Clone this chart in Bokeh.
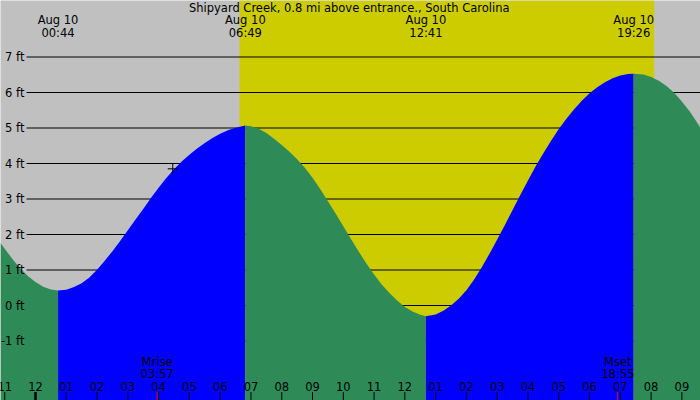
from bokeh.plotting import figure
from bokeh.models import Range1d
from bokeh.core.properties import value
from bokeh.embed import file_html
from bokeh.resources import INLINE

title = "Shipyard Creek, 0.8 mi above entrance., South Carolina"

# tide curve: hours after midnight Aug 10, height in ft
tide_t = [-1.137, -1.0, -0.75, -0.5, -0.25, 0.0, 0.25, 0.5, 0.733,
          1.0, 1.25, 1.5, 1.75, 2.0, 2.25, 2.5, 2.75, 3.0, 3.25, 3.5, 3.75,
          4.0, 4.25, 4.5, 4.75, 5.0, 5.25, 5.5, 5.75, 6.0, 6.25, 6.5, 6.817,
          7.0, 7.25, 7.5, 7.75, 8.0, 8.25, 8.5, 8.75, 9.0, 9.25, 9.5, 9.75,
          10.0, 10.25, 10.5, 10.75, 11.0, 11.25, 11.5, 11.75, 12.0, 12.25,
          12.5, 12.683,
          13.0, 13.25, 13.5, 13.75, 14.0, 14.25, 14.5, 14.75, 15.0, 15.25,
          15.5, 15.75, 16.0, 16.25, 16.5, 16.75, 17.0, 17.25, 17.5, 17.75,
          18.0, 18.25, 18.5, 18.75, 19.0, 19.25, 19.433,
          19.75, 20.0, 20.25, 20.5, 20.75, 21.0, 21.25, 21.5, 21.605]
tide_h = [1.76, 1.60, 1.31, 1.05, 0.83, 0.66, 0.53, 0.45, 0.42,
          0.445, 0.52, 0.63, 0.79, 1.01, 1.26, 1.53, 1.82, 2.12, 2.42, 2.72, 3.03,
          3.32, 3.59, 3.84, 4.06, 4.25, 4.42, 4.58, 4.72, 4.84, 4.94, 5.01, 5.07,
          5.05, 4.98, 4.86, 4.70, 4.52, 4.33, 4.12, 3.88, 3.60, 3.28, 2.94, 2.59,
          2.23, 1.87, 1.52, 1.18, 0.87, 0.59, 0.35, 0.14, -0.04, -0.17,
          -0.26, -0.30,
          -0.25, -0.15, 0.0, 0.19, 0.43, 0.73, 1.08, 1.46, 1.86, 2.27,
          2.69, 3.11, 3.52, 3.92, 4.29, 4.64, 4.97, 5.26, 5.53, 5.77,
          5.98, 6.15, 6.29, 6.40, 6.48, 6.52, 6.53,
          6.51, 6.44, 6.33, 6.18, 5.99, 5.75, 5.47, 5.15, 5.0]

# high / low tides
event_t = [0.733, 6.817, 12.683, 19.433]
event_date = ["Aug 10", "Aug 10", "Aug 10", "Aug 10"]
event_time = ["00:44", "06:49", "12:41", "19:26"]

sun_rise = 6.63
sun_set = 20.10

moon_t = [3.95, 18.917]
moon_name = ["Mrise", "Mset"]
moon_time = ["03:57", "18:55"]

now_t = [4.46]
now_h = [3.85]

ft_levels = [7, 6, 5, 4, 3, 2, 1, 0, -1]
ft_labels = ["7 ft", "6 ft", "5 ft", "4 ft", "3 ft", "2 ft", "1 ft", "0 ft", "-1 ft"]

hours = list(range(-1, 22))
hour_labels = ["11", "12", "01", "02", "03", "04", "05", "06", "07", "08", "09",
               "10", "11", "12", "01", "02", "03", "04", "05", "06", "07", "08", "09"]

X0, X1 = -1.137, 21.605
Y0, Y1 = -2.676, 8.592

FONT = value("DejaVu Sans")
FS = "11.5px"

p = figure(width=700, height=400, x_range=Range1d(X0, X1), y_range=Range1d(Y0, Y1),
           x_axis_type=None, y_axis_type=None, title=None,
           output_backend="svg", toolbar_location=None, min_border=0)
p.grid.visible = False
p.outline_line_color = None
p.background_fill_color = "#c0c0c0"
p.border_fill_color = "#c0c0c0"

# daylight
p.quad(left=[sun_rise], right=[sun_set], bottom=Y0, top=Y1,
       fill_color="#cccc00", line_color=None)

# level lines
p.segment(x0=-0.29, x1=X1, y0=ft_levels, y1=ft_levels, line_color="black", line_width=1)

# water, blue when rising, green when falling
idx = [0] + [tide_t.index(t) for t in event_t] + [len(tide_t) - 1]
for a, b in zip(idx[:-1], idx[1:]):
    xs = tide_t[a:b + 1]
    ys = tide_h[a:b + 1]
    color = "#0000ff" if ys[-1] > ys[0] else "#2e8b57"
    p.varea(x=xs, y1=Y0, y2=ys, fill_color=color)

# current time marker
p.scatter(x=now_t, y=now_h, marker="cross", size=10, line_color="black", line_width=1)

# y labels
p.text(x=-0.36, y=ft_levels, text=ft_labels, text_align="right", text_baseline="middle",
       text_font=FONT, text_font_size=FS, text_color="black")

# hour ticks and labels
p.segment(x0=hours, x1=hours, y0=-2.44, y1=Y0, line_color="black", line_width=1)
p.segment(x0=[0], x1=[0], y0=-2.44, y1=Y0, line_color="black", line_width=2.5)
p.segment(x0=moon_t, x1=moon_t, y0=-2.44, y1=Y0, line_color="red", line_width=1)
p.text(x=hours, y=-2.27, text=hour_labels, text_align="center", text_baseline="middle",
       text_font=FONT, text_font_size=FS, text_color="black")

# moon labels
p.text(x=moon_t, y=-1.60, text=moon_name, text_align="center", text_baseline="middle",
       text_font=FONT, text_font_size=FS, text_color="black")
p.text(x=moon_t, y=-1.94, text=moon_time, text_align="center", text_baseline="middle",
       text_font=FONT, text_font_size=FS, text_color="black")

# tide event labels
p.text(x=event_t, y=8.04, text=event_date, text_align="center", text_baseline="middle",
       text_font=FONT, text_font_size=FS, text_color="black")
p.text(x=event_t, y=7.67, text=event_time, text_align="center", text_baseline="middle",
       text_font=FONT, text_font_size=FS, text_color="black")

# title
p.text(x=[(X0 + X1) / 2 - 0.04], y=[8.37], text=[title], text_align="center",
       text_baseline="middle", text_font=FONT, text_font_size=FS, text_color="black")

open("out.html", "w").write(file_html(p, INLINE))
